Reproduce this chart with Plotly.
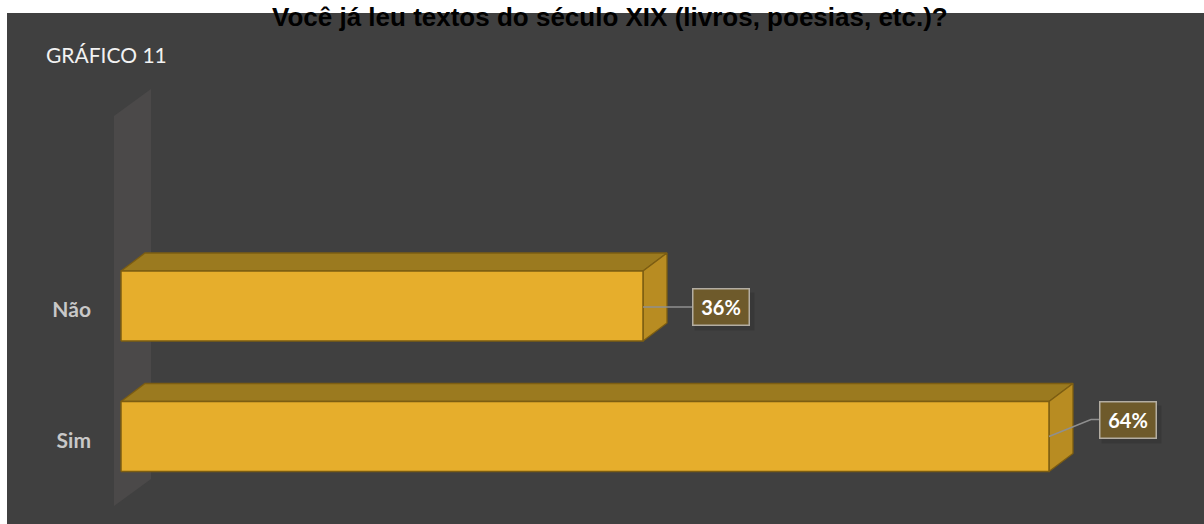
import plotly.graph_objects as go

# ---- data ----
categories = ["Sim", "Não"]
values = [64, 36]
value_labels = ["64%", "36%"]
title_text = "Você já leu textos do século XIX (livros, poesias, etc.)?"
chart_tag = "GRÁFICO 11"

# ---- layout constants (pixels) ----
W, H = 1204, 524
ML = 100
X0_PX, PX_PER_X = 121.0, 14.5
Y0_PX, PX_PER_Y = 436.5, 130.5
xr = [(ML - X0_PX) / PX_PER_X, (W - X0_PX) / PX_PER_X]
yr = [(Y0_PX - H) / PX_PER_Y, Y0_PX / PX_PER_Y]

def px2paper_x(px):
    return (px - ML) / (W - ML)

def px2paper_y(py):
    return (H - py) / H

bar_w = 70 / PX_PER_Y
dx = 24 / PX_PER_X
dy = 18 / PX_PER_Y

FRONT = "#e6ae2c"
TOP = "#9b7a1f"
SIDE = "#b88c22"
EDGE = "#7c5d12"
PANEL = "#404040"
WALL = "#4b4949"

fig = go.Figure()

# back wall (3D depth plane)
wl = -7 / PX_PER_X
wdx = 37 / PX_PER_X
wdy = 27 / PX_PER_Y
wb = (Y0_PX - 506) / PX_PER_Y
wt = (Y0_PX - 116) / PX_PER_Y
fig.add_trace(go.Scatter(
    x=[wl, wl + wdx, wl + wdx, wl, wl],
    y=[wb, wb + wdy, wt + wdy, wt, wb],
    fill="toself", fillcolor=WALL, mode="lines", line=dict(width=0),
    hoverinfo="skip", showlegend=False))

ys = list(range(len(categories)))

# 3D boxes: top, side, front faces
for i, v in zip(ys, values):
    yt = i + bar_w / 2
    yb = i - bar_w / 2
    fig.add_trace(go.Scatter(
        x=[0, v, v + dx, dx, 0],
        y=[yt, yt, yt + dy, yt + dy, yt],
        fill="toself", fillcolor=TOP, mode="lines",
        line=dict(color=EDGE, width=1.3),
        hoverinfo="skip", showlegend=False))
    fig.add_trace(go.Scatter(
        x=[v, v + dx, v + dx, v, v],
        y=[yb, yb + dy, yt + dy, yt, yb],
        fill="toself", fillcolor=SIDE, mode="lines",
        line=dict(color=EDGE, width=1.3),
        hoverinfo="skip", showlegend=False))
    fig.add_trace(go.Scatter(
        x=[0, v, v, 0, 0],
        y=[yb, yb, yt, yt, yb],
        fill="toself", fillcolor=FRONT, mode="lines",
        line=dict(color=EDGE, width=1.5),
        hoverinfo="skip", showlegend=False))

# leader lines (pixel offsets from bar end) and label boxes
leaders = [[(0, 0), (42, -17), (50, -17)], [(0, 1), (49, 1)]]
box_offsets = [(78.5, -17), (77.5, 0.5)]
annotations = []
shapes = [dict(type="rect", xref="paper", yref="paper", layer="below",
               x0=px2paper_x(7), x1=px2paper_x(W), y0=px2paper_y(H), y1=px2paper_y(13),
               fillcolor=PANEL, line=dict(width=0))]
for i, v, lab, pts, (bx, by) in zip(ys, values, value_labels, leaders, box_offsets):
    fig.add_trace(go.Scatter(
        x=[v + px / PX_PER_X for px, py in pts],
        y=[i - py / PX_PER_Y for px, py in pts],
        mode="lines", line=dict(color="#8f8f8f", width=1.5),
        hoverinfo="skip", showlegend=False))
    cx = v + bx / PX_PER_X
    cy = i - by / PX_PER_Y
    # soft shadow behind the label box
    shapes.append(dict(type="rect", xref="x", yref="y", layer="below",
                       x0=cx - 26 / PX_PER_X, x1=cx + 34 / PX_PER_X,
                       y0=cy - 24 / PX_PER_Y, y1=cy + 14 / PX_PER_Y,
                       fillcolor="rgba(0,0,0,0.12)", line=dict(width=0)))
    annotations.append(dict(
        x=cx, y=cy, xref="x", yref="y", text="<b>%s</b>" % lab,
        showarrow=False, xanchor="center", yanchor="middle",
        font=dict(family="Lato", size=20, color="#ffffff"),
        bgcolor="#6e5a2b", bordercolor="#b3ada2", borderwidth=1.5,
        borderpad=5, width=45, height=25))

annotations.append(dict(
    x=px2paper_x(44), y=px2paper_y(54), xref="paper", yref="paper",
    xanchor="left", yanchor="middle", showarrow=False, text=chart_tag,
    font=dict(family="Lato", size=21, color="#f2f2f2")))

annotations.append(dict(
    x=px2paper_x(610), y=1, xref="paper", yref="paper",
    xanchor="center", yanchor="top", showarrow=False, yshift=0,
    text="<b>%s</b>" % title_text,
    font=dict(family="Arial, Liberation Sans", size=26, color="#000000")))

label_shift = 4 / PX_PER_Y
fig.update_layout(
    width=W, height=H,
    margin=dict(l=ML, r=0, t=0, b=0, autoexpand=False),
    paper_bgcolor="#ffffff", plot_bgcolor="rgba(0,0,0,0)",
    shapes=shapes,
    annotations=annotations,
    xaxis=dict(range=xr, visible=False, fixedrange=True),
    yaxis=dict(range=yr, tickvals=[i - label_shift for i in ys],
               ticktext=["<b>%s</b>" % c for c in categories],
               showgrid=False, zeroline=False, showline=False, ticks="",
               ticklabelstandoff=8, automargin=False, fixedrange=True,
               tickfont=dict(family="Lato", size=21, color="#c8c8c8")),
)

fig.write_html("out.html", config={"displayModeBar": False},
               post_script="document.body.style.margin='0';")
